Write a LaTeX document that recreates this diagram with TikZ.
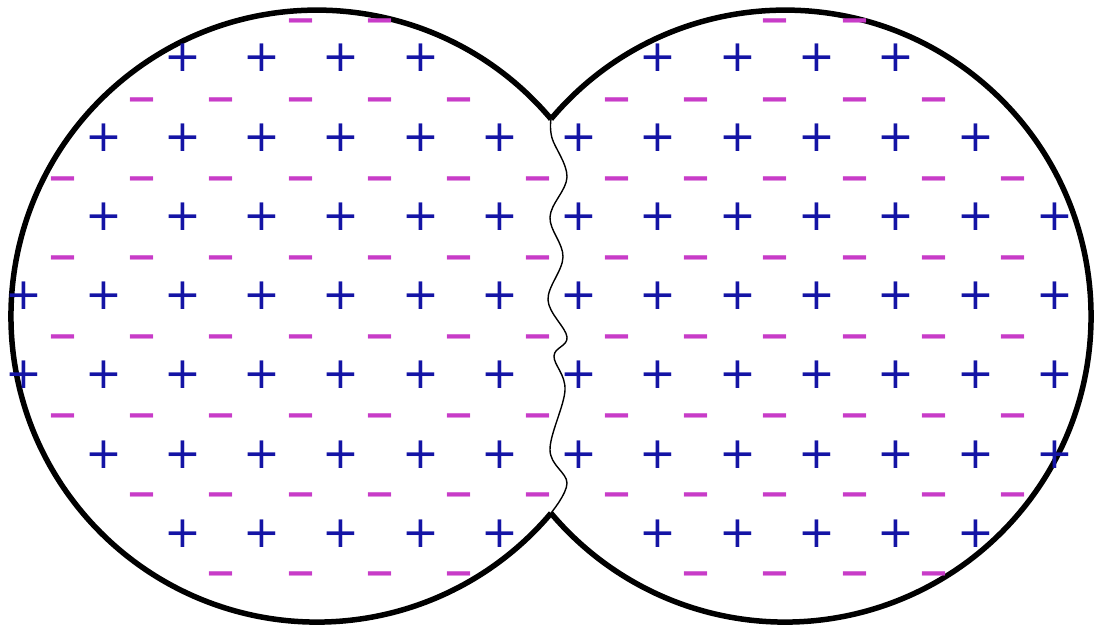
\documentclass[tikz,border=0pt]{standalone}
\usepackage{fontspec}
\newfontfamily\symfont{DejaVu Sans}
\definecolor{plblue}{RGB}{20,20,165}
\definecolor{mimag}{RGB}{200,60,200}
\begin{document}
\begin{tikzpicture}[x=1pt,y=-1pt,
  outline/.style={line width=5.5pt, black},
  seam/.style={line width=1.4pt, black, line cap=round, line join=round},
  pl/.style={inner sep=0pt, text=plblue, font=\fontsize{44}{44}\selectfont\symfont},
  mi/.style={inner sep=0pt, text=mimag, font=\fontsize{37}{37}\selectfont\symfont\bfseries, yshift=-5pt}]
\useasboundingbox (0,0) rectangle (1095,624);
\fill[white] (0,0) rectangle (1095,624);
\coordinate (tT) at (551,119);
\coordinate (tB) at (551,513);
% outer arcs
\draw[outline] (tT) arc[start angle=-40.1, end angle=-319.9, radius=306];
\draw[outline] (tT) arc[start angle=220.1, end angle=499.9, radius=306];
% wavy seam
\draw[seam] plot[smooth, tension=0.6] coordinates {(tT) (552,138) (567,177) (550,217) (563,257) (548,300) (567,337) (554,356) (565,390) (550,450) (567,483) (tB)};
% plus charges, left
\foreach \j/\ks in {0/{2,3,4,5},1/{1,2,3,4,5,6},2/{1,2,3,4,5,6},3/{0,1,2,3,4,5,6},4/{0,1,2,3,4,5,6},5/{1,2,3,4,5,6},6/{2,3,4,5,6}}{
  \foreach \k in \ks {\node[pl] (pL\j\k) at ({500-79.3*(6-\k)},{58+79.3*\j}) {+};}}
% plus charges, right
\foreach \j/\ks in {0/{1,2,3,4},1/{0,1,2,3,4,5},2/{0,1,2,3,4,5,6},3/{0,1,2,3,4,5,6},4/{0,1,2,3,4,5,6},5/{0,1,2,3,4,5,6},6/{1,2,3,4,5}}{
  \foreach \k in \ks {\node[pl] (pR\j\k) at ({579+79.3*\k},{58+79.3*\j}) {+};}}
% minus charges, left
\foreach \j/\ks in {0/{3,4},1/{1,2,3,4,5},2/{0,1,2,3,4,5,6},3/{0,1,2,3,4,5,6},4/{0,1,2,3,4,5,6},5/{0,1,2,3,4,5,6},6/{1,2,3,4,5,6},7/{2,3,4,5}}{
  \foreach \k in \ks {\node[mi] (mL\j\k) at ({63+79.2*\k},{21+79*\j}) {−};}}
% minus charges, right
\foreach \j/\ks in {0/{2,3},1/{0,1,2,3,4},2/{0,1,2,3,4,5},3/{0,1,2,3,4,5},4/{0,1,2,3,4,5},5/{0,1,2,3,4,5},6/{0,1,2,3,4,5},7/{1,2,3,4}}{
  \foreach \k in \ks {\node[mi] (mR\j\k) at ({617+79.2*\k},{21+79*\j}) {−};}}
\end{tikzpicture}
\end{document}
